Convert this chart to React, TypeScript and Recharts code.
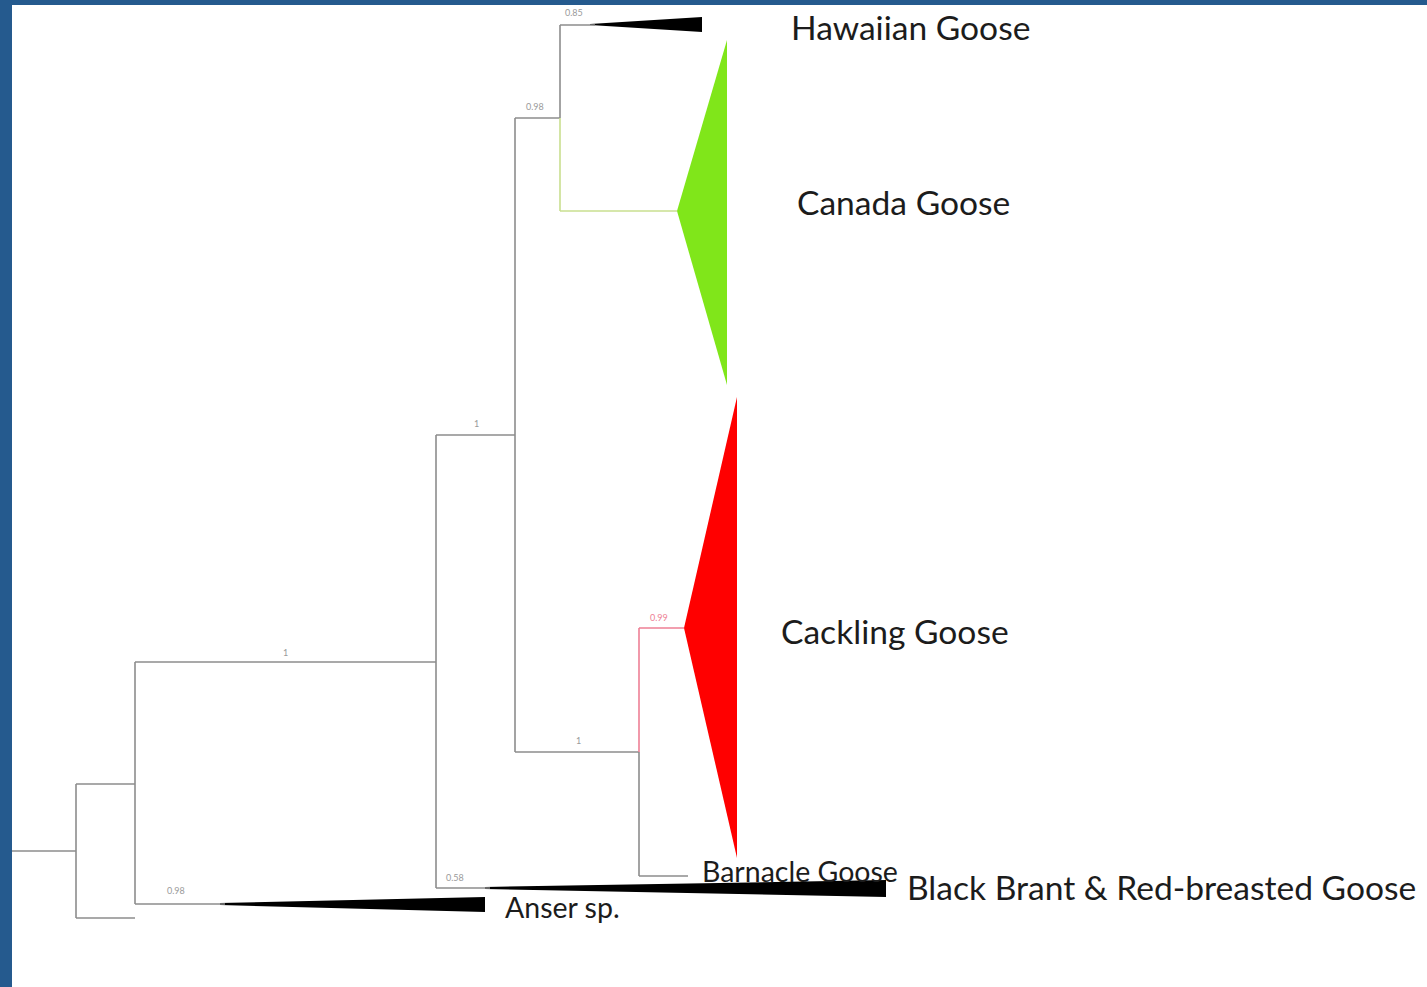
import { Area, ComposedChart, Line, Scatter, XAxis, YAxis } from 'recharts';

// tree branches (x = depth, y = row), grey
const greyBranches = [
  [{ x: 12, y: 851 }, { x: 76, y: 851 }],
  [{ x: 76, y: 784 }, { x: 76, y: 918 }],
  [{ x: 76, y: 784 }, { x: 135, y: 784 }],
  [{ x: 76, y: 918 }, { x: 135, y: 918 }],
  [{ x: 135, y: 662 }, { x: 135, y: 904 }],
  [{ x: 135, y: 662 }, { x: 436, y: 662 }],
  [{ x: 135, y: 904 }, { x: 225, y: 904 }],
  [{ x: 436, y: 435 }, { x: 436, y: 888 }],
  [{ x: 436, y: 435 }, { x: 515, y: 435 }],
  [{ x: 436, y: 888 }, { x: 490, y: 888 }],
  [{ x: 515, y: 118 }, { x: 515, y: 752 }],
  [{ x: 515, y: 118 }, { x: 560, y: 118 }],
  [{ x: 515, y: 752 }, { x: 639, y: 752 }],
  [{ x: 560, y: 25 }, { x: 560, y: 118 }],
  [{ x: 560, y: 25 }, { x: 595, y: 25 }],
  [{ x: 639, y: 752 }, { x: 639, y: 876 }],
  [{ x: 639, y: 876 }, { x: 688, y: 876 }],
];

const greenBranches = [
  [{ x: 560, y: 118 }, { x: 560, y: 211 }],
  [{ x: 560, y: 211 }, { x: 677, y: 211 }],
];

const pinkBranches = [
  [{ x: 639, y: 628 }, { x: 639, y: 752 }],
  [{ x: 639, y: 628 }, { x: 684, y: 628 }],
];

// collapsed clades
const hawaiianClade = [{ x: 590, range: [24, 25] }, { x: 702, range: [17, 32] }];
const canadaClade = [{ x: 677, range: [211, 211] }, { x: 727, range: [40, 385] }];
const cacklingClade = [{ x: 684, range: [628, 628] }, { x: 737, range: [397, 858] }];
const anserClade = [{ x: 220, range: [903, 905] }, { x: 485, range: [897, 912] }];
const brantClade = [{ x: 485, range: [887, 889] }, { x: 886, range: [880, 897] }];

const supportValues = [
  { x: 565, y: 16, text: '0.85' },
  { x: 526, y: 110, text: '0.98' },
  { x: 474, y: 427, text: '1' },
  { x: 283, y: 656, text: '1' },
  { x: 576, y: 744, text: '1' },
  { x: 167, y: 894, text: '0.98' },
  { x: 446, y: 881, text: '0.58' },
];
const pinkSupport = [{ x: 650, y: 621, text: '0.99' }];

const bigNames = [
  { x: 791, y: 40, text: 'Hawaiian Goose' },
  { x: 797, y: 215, text: 'Canada Goose' },
  { x: 781, y: 644, text: 'Cackling Goose' },
  { x: 907, y: 900, text: 'Black Brant & Red-breasted Goose' },
];
const smallNames = [
  { x: 702, y: 882, text: 'Barnacle Goose' },
  { x: 505, y: 918, text: 'Anser sp.' },
];

const textShape = (size: number, color: string) => (p: any) => (
  <text
    x={p.cx}
    y={p.cy}
    fontSize={size}
    fill={color}
    fontFamily="Lato, 'Open Sans', sans-serif"
    textAnchor="start"
  >
    {p.payload.text}
  </text>
);

export default function App() {
  return (
    <div style={{ position: 'fixed', left: 0, top: 0, width: 1427, height: 987, background: '#255a8e' }}>
      <div style={{ position: 'absolute', left: 12, top: 5, width: 1415, height: 982, background: '#fff' }}>
        <ComposedChart width={1415} height={982} margin={{ top: 0, right: 0, bottom: 0, left: 0 }}>
          <XAxis type="number" dataKey="x" domain={[12, 1427]} allowDataOverflow hide />
          <YAxis type="number" domain={[5, 987]} reversed allowDataOverflow hide />

          {greyBranches.map((d, i) => (
            <Line key={'g' + i} data={d} dataKey="y" stroke="#8c8c8c" strokeWidth={1.6} dot={false} isAnimationActive={false} />
          ))}
          {greenBranches.map((d, i) => (
            <Line key={'gr' + i} data={d} dataKey="y" stroke="#c9df8f" strokeWidth={1.6} dot={false} isAnimationActive={false} />
          ))}
          {pinkBranches.map((d, i) => (
            <Line key={'p' + i} data={d} dataKey="y" stroke="#ee7f95" strokeWidth={1.6} dot={false} isAnimationActive={false} />
          ))}

          <Area data={hawaiianClade} dataKey="range" type="linear" fill="#000" fillOpacity={1} stroke="none" isAnimationActive={false} />
          <Area data={canadaClade} dataKey="range" type="linear" fill="#80e61a" fillOpacity={1} stroke="none" isAnimationActive={false} />
          <Area data={cacklingClade} dataKey="range" type="linear" fill="#ff0000" fillOpacity={1} stroke="none" isAnimationActive={false} />
          <Area data={anserClade} dataKey="range" type="linear" fill="#000" fillOpacity={1} stroke="none" isAnimationActive={false} />
          <Area data={brantClade} dataKey="range" type="linear" fill="#000" fillOpacity={1} stroke="none" isAnimationActive={false} />

          <Scatter data={supportValues} dataKey="y" shape={textShape(9, '#9a9a9a')} isAnimationActive={false} />
          <Scatter data={pinkSupport} dataKey="y" shape={textShape(9, '#ee7f95')} isAnimationActive={false} />
          <Scatter data={bigNames} dataKey="y" shape={textShape(33.6, '#1c1c1c')} isAnimationActive={false} />
          <Scatter data={smallNames} dataKey="y" shape={textShape(28.5, '#1c1c1c')} isAnimationActive={false} />
        </ComposedChart>
      </div>
    </div>
  );
}
